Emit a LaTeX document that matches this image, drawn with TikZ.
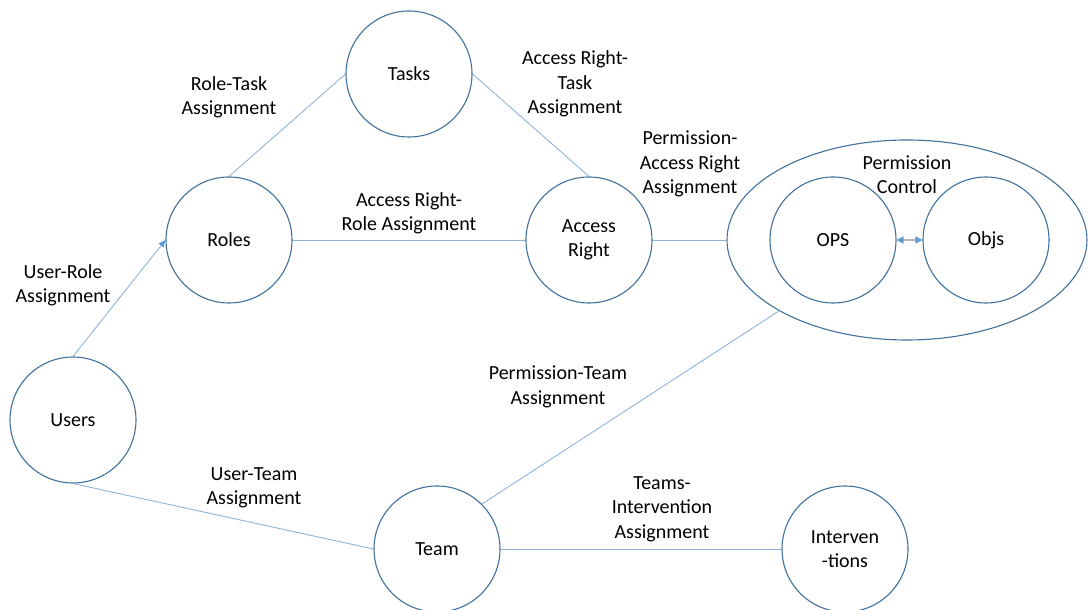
\documentclass[tikz,border=0pt]{standalone}
\usepackage{fontspec}
\setmainfont{Carlito}
\usetikzlibrary{arrows.meta,shapes.geometric}
\definecolor{ring}{HTML}{41719C}
\definecolor{link}{HTML}{8FB3DA}
\definecolor{tip}{HTML}{5B9BD5}
\definecolor{grayline}{HTML}{B4B4B4}
\tikzset{
  ent/.style={circle,draw=ring,line width=1.1pt,minimum size=126pt,inner sep=0pt,align=center,font=\fontsize{20}{24.4}\selectfont},
  lbl/.style={align=center,inner sep=0pt,yshift=-2pt,font=\fontsize{20}{24.4}\selectfont},
  conn/.style={draw=link,line width=0.9pt},
}
\begin{document}
\begin{tikzpicture}[x=1pt,y=1pt]
\useasboundingbox (0,0) rectangle (1088,610);
% y = 610 - pixel y
\node[ellipse,draw=ring,line width=1.1pt,minimum width=360pt,minimum height=200pt,inner sep=0pt] (pc) at (907,370) {};
\node[ent] (tasks) at (409,536) {Tasks};
\node[ent] (roles) at (229,370) {Roles};
\node[ent] (ar) at (589,370) {Access\\Right};
\node[ent] (users) at (73,190) {Users};
\node[ent] (team) at (437,61) {Team};
\node[ent] (interv) at (845,61) {Interven\\-tions};
\node[ent] (ops) at (833,370) {OPS};
\node[ent] (objs) at (986,370) {Objs};

\draw[conn] (roles.north) -- (tasks.west);
\draw[conn] (tasks.east) -- (ar.north);
\draw[conn] (roles.east) -- (ar.west);
\draw[conn] (ar.east) -- (pc.west);
\draw[conn,-{Triangle[length=7pt,width=6pt,color=tip]}] (users.north) -- (roles.west);
\draw[conn] (users.south) -- (team.west);
\draw[conn] (team.45) -- (pc.209);
\draw[conn] (team.east) -- (interv.west);
\draw[draw=grayline,line width=1.2pt,{Triangle[length=7pt,width=7pt,color=tip]}-{Triangle[length=7pt,width=7pt,color=tip]}] (ops.east) -- (objs.west);

\node[lbl] (l1) at (229,515) {Role-Task\\Assignment};
\node[lbl] (l2) at (575,528) {Access Right-\\Task\\Assignment};
\node[lbl] (l3) at (690,448) {Permission-\\Access Right\\Assignment};
\node[lbl] (l4) at (409,399) {Access Right-\\Role Assignment};
\node[lbl] (l5) at (63,327) {User-Role\\Assignment};
\node[lbl] (l6) at (907,437) {Permission\\Control};
\node[lbl] (l7) at (558,225) {Permission-Team\\Assignment};
\node[lbl] (l8) at (254,124) {User-Team\\Assignment};
\node[lbl] (l9) at (662,103) {Teams-\\Intervention\\Assignment};
\end{tikzpicture}
\end{document}
